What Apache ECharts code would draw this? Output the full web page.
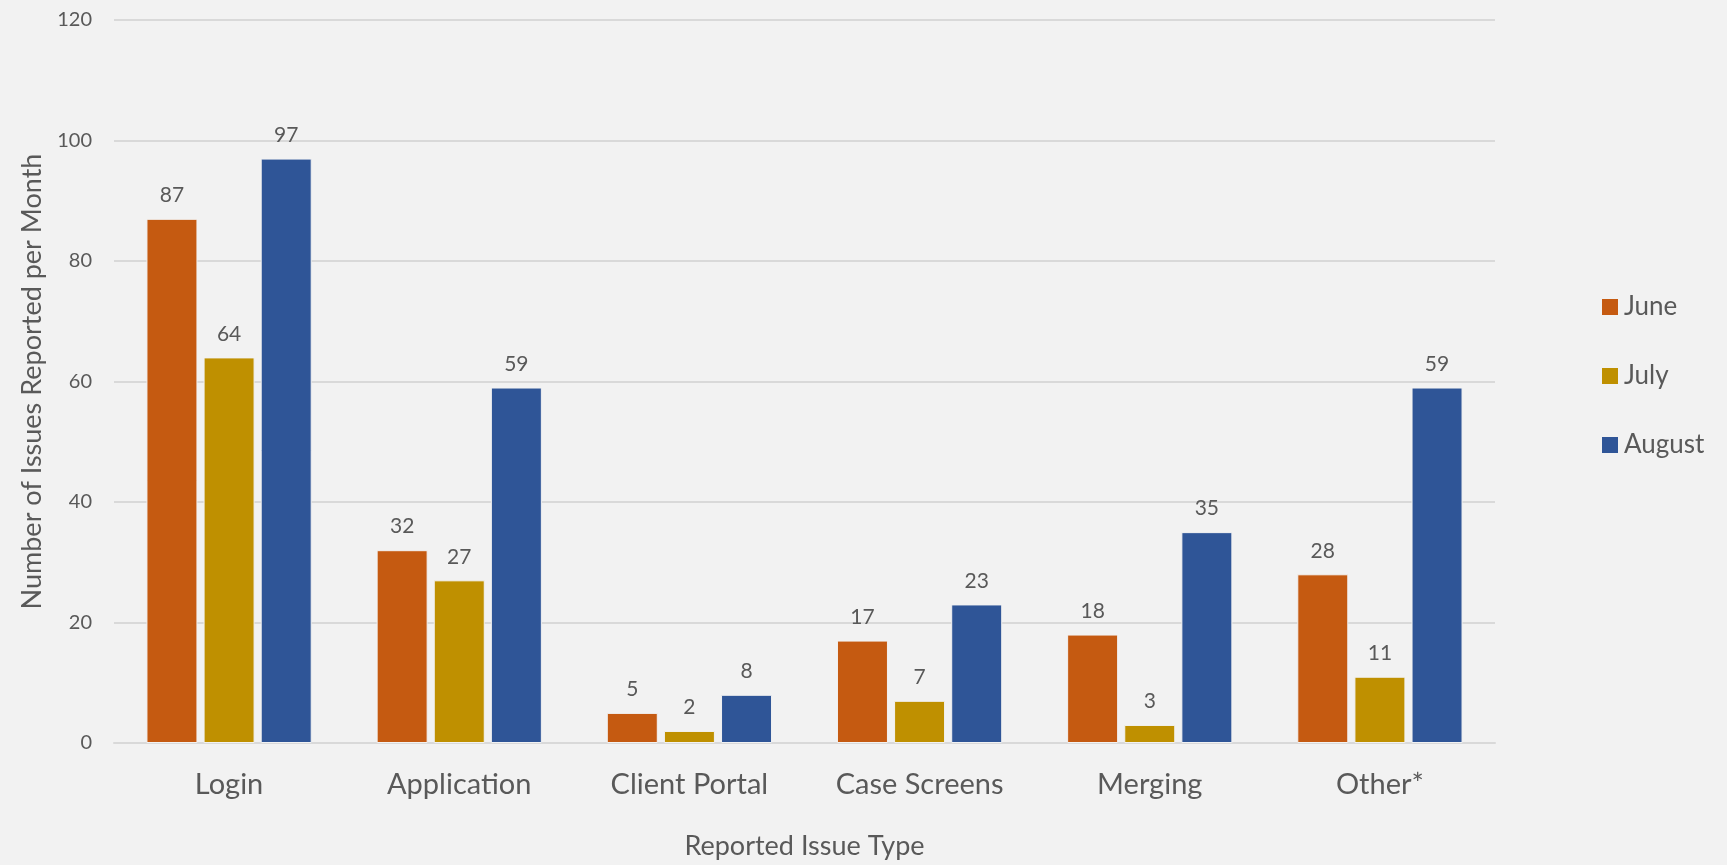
<!DOCTYPE html>
<html>
<head>
<meta charset="utf-8">
<title>Reported Issues per Month</title>
<script src="https://cdn.jsdelivr.net/npm/echarts@6/dist/echarts.min.js"></script>
<style>
  html, body { margin: 0; padding: 0; background: #f2f2f2; }
  #chart { width: 1727px; height: 865px; }
</style>
</head>
<body>
<div id="chart"></div>
<script>
// categories and monthly counts
const categories = ['Login', 'Application', 'Client Portal', 'Case Screens', 'Merging', 'Other*']
const juneValues = [87, 32, 5, 17, 18, 28]
const julyValues = [64, 27, 2, 7, 3, 11]
const augustValues = [97, 59, 8, 23, 35, 59]

const FONT = 'Lato, "Open Sans", sans-serif'
const TEXT = '#595959'

const makeSeries = (name, data, color) => ({
  name,
  type: 'bar',
  data,
  barWidth: 51,
  barGap: '12%',
  itemStyle: { color, borderColor: '#f2f2f2', borderWidth: 1 },
  label: {
    show: true,
    position: 'top',
    distance: 13,
    color: TEXT,
    fontFamily: FONT,
    fontSize: 21
  }
})

const chart = echarts.init(document.getElementById('chart'))
chart.setOption({
  backgroundColor: '#f2f2f2',
  animation: false,
  textStyle: { fontFamily: FONT, color: TEXT },
  grid: { left: 114, right: 232, top: 20, bottom: 122 },
  legend: {
    orient: 'vertical',
    left: 1595,
    top: 289,
    itemWidth: 18,
    itemHeight: 18,
    itemGap: 43,
    icon: 'rect',
    textStyle: { fontSize: 26, color: TEXT, fontFamily: FONT, lineHeight: 22 },
    data: ['June', 'July', 'August']
  },
  xAxis: {
    type: 'category',
    data: categories,
    name: 'Reported Issue Type',
    nameLocation: 'middle',
    nameGap: 90,
    nameTextStyle: { fontSize: 27, color: TEXT, fontFamily: FONT },
    axisLine: { lineStyle: { color: '#d9d9d9', width: 2 } },
    axisTick: { show: false },
    axisLabel: { fontSize: 29, color: TEXT, fontFamily: FONT, margin: 27 }
  },
  yAxis: {
    type: 'value',
    min: 0,
    max: 120,
    interval: 20,
    name: 'Number of Issues Reported per Month',
    nameLocation: 'middle',
    nameGap: 68,
    nameTextStyle: { fontSize: 27, color: TEXT, fontFamily: FONT },
    axisLine: { show: false },
    axisTick: { show: false },
    axisLabel: { fontSize: 20, color: TEXT, fontFamily: FONT, margin: 22 },
    splitLine: { lineStyle: { color: '#d9d9d9', width: 2 } }
  },
  series: [
    makeSeries('June', juneValues, '#c55a11'),
    makeSeries('July', julyValues, '#bf9000'),
    makeSeries('August', augustValues, '#2f5597')
  ]
})
</script>
</body>
</html>
